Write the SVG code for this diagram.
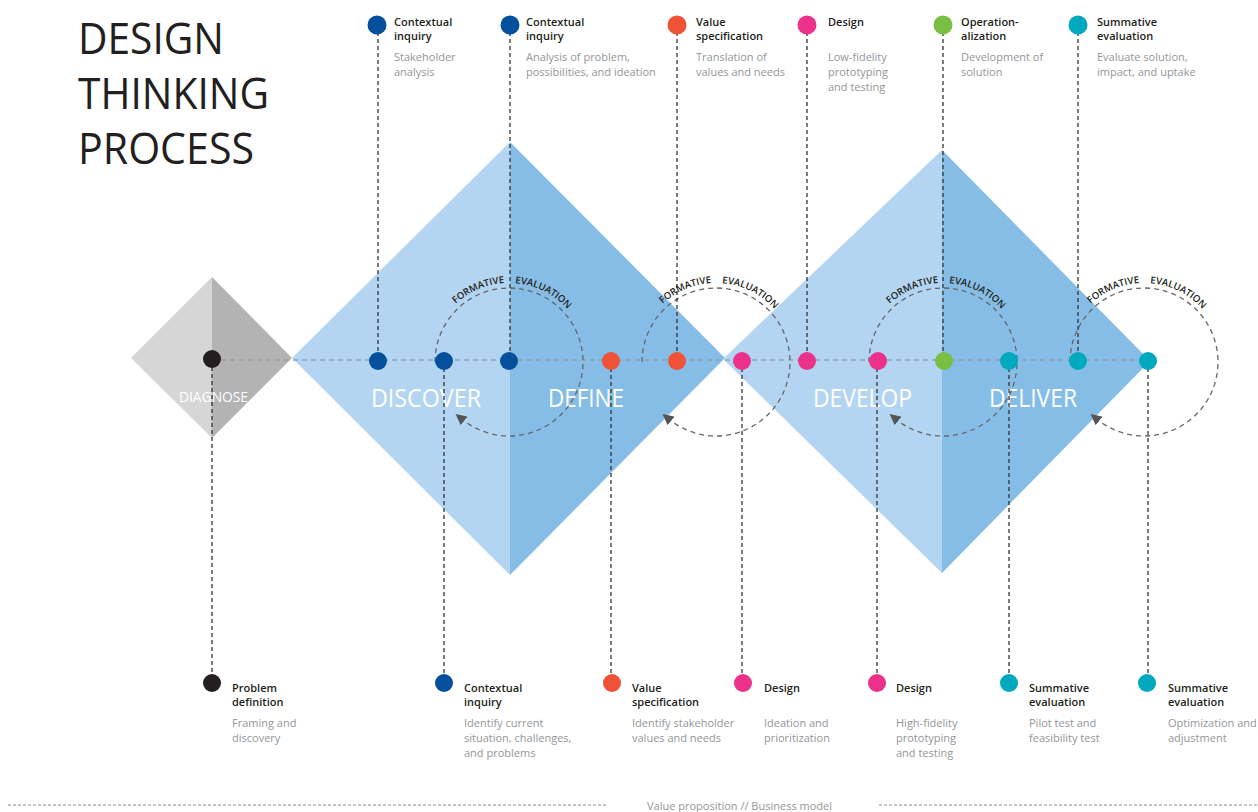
<svg xmlns="http://www.w3.org/2000/svg" width="1258" height="812" viewBox="0 0 1258 812">
<defs>
<style>
.title{font-family:"Open Sans","Liberation Sans",sans-serif;font-size:44px;fill:#231f20}
.phase{font-family:"Open Sans","Liberation Sans",sans-serif;font-size:25px;fill:#ffffff}
.hd{font-family:"Open Sans","Liberation Sans",sans-serif;font-size:11px;font-weight:600;fill:#231f20}
.ds{font-family:"Open Sans","Liberation Sans",sans-serif;font-size:11px;fill:#939598}
.fe{font-family:"Open Sans","Liberation Sans",sans-serif;font-size:9.6px;font-weight:600;fill:#231f20}
.vc{stroke:#333333;stroke-width:1.3;stroke-dasharray:4 3;fill:none}
.loop{stroke:#666666;stroke-width:1.3;stroke-dasharray:5 4;fill:none}
.blue{fill:#064f9c}.orange{fill:#ef5236}.pink{fill:#ec318b}.green{fill:#79bf43}.teal{fill:#00a9bd}.black{fill:#231f20}
</style>
<marker id="ah" viewBox="0 0 10 10" refX="2" refY="5" markerWidth="11" markerHeight="11" markerUnits="userSpaceOnUse" orient="auto">
<path d="M0,0 L10,5 L0,10 z" fill="#555555"/>
</marker>
<path id="fp1" d="M430,362 A79,79 0 0 1 588,362"/>
<path id="fp2" d="M637,362 A79,79 0 0 1 795,362"/>
<path id="fp3" d="M864,362 A79,79 0 0 1 1022,362"/>
<path id="fp4" d="M1065,362 A79,79 0 0 1 1223,362"/>
</defs>
<rect width="1258" height="812" fill="#ffffff"/>

<g id="title">
<text class="title" x="78" y="54" textLength="146" lengthAdjust="spacingAndGlyphs">DESIGN</text>
<text class="title" x="78" y="109" textLength="191" lengthAdjust="spacingAndGlyphs">THINKING</text>
<text class="title" x="78" y="164" textLength="176" lengthAdjust="spacingAndGlyphs">PROCESS</text>
</g>

<g id="diagnose">
<polygon points="131,358 212,277 212,438" fill="#d6d6d6"/>
<polygon points="212,277 292,358 212,438" fill="#b3b3b3"/>
<text class="phase" x="179" y="402" style="font-size:15px" textLength="69" lengthAdjust="spacingAndGlyphs">DIAGNOSE</text>
</g>

<g id="discover-define">
<polygon points="292,358 510,142 510,575" fill="#b3d5f1"/>
<polygon points="510,142 725,358 510,575" fill="#86bde6"/>
<text class="phase" x="371" y="407" textLength="110" lengthAdjust="spacingAndGlyphs">DISCOVER</text>
<text class="phase" x="548" y="407" textLength="76" lengthAdjust="spacingAndGlyphs">DEFINE</text>
</g>

<g id="develop-deliver">
<polygon points="723,359 942,150 942,573" fill="#b3d5f1"/>
<polygon points="942,150 1150,361 942,573" fill="#86bde6"/>
<text class="phase" x="813" y="407" textLength="99" lengthAdjust="spacingAndGlyphs">DEVELOP</text>
<text class="phase" x="989" y="407" textLength="88" lengthAdjust="spacingAndGlyphs">DELIVER</text>
</g>

<g id="connectors">
<line x1="212" y1="360" x2="1148" y2="360" stroke="#8c99a6" stroke-width="1.3" stroke-dasharray="5 4" opacity="0.8"/>
<path class="loop" d="M435,362 A74,74 0 1 1 462.4,419.5" marker-end="url(#ah)"/>
<path class="loop" d="M642,362 A74,74 0 1 1 669.4,419.5" marker-end="url(#ah)"/>
<path class="loop" d="M869,362 A74,74 0 1 1 896.4,419.5" marker-end="url(#ah)"/>
<path class="loop" d="M1070,362 A74,74 0 1 1 1097.4,419.5" marker-end="url(#ah)"/>
<line class="vc" x1="378" y1="25" x2="378" y2="361"/>
<line class="vc" x1="510" y1="25" x2="510" y2="361"/>
<line class="vc" x1="677" y1="25" x2="677" y2="361"/>
<line class="vc" x1="807" y1="25" x2="807" y2="361"/>
<line class="vc" x1="943" y1="25" x2="943" y2="361"/>
<line class="vc" x1="1078" y1="25" x2="1078" y2="361"/>
<line class="vc" x1="212" y1="360" x2="212" y2="683"/>
<line class="vc" x1="444" y1="361" x2="444" y2="683"/>
<line class="vc" x1="611" y1="361" x2="611" y2="683"/>
<line class="vc" x1="742" y1="361" x2="742" y2="683"/>
<line class="vc" x1="877" y1="361" x2="877" y2="683"/>
<line class="vc" x1="1009" y1="361" x2="1009" y2="683"/>
<line class="vc" x1="1148" y1="361" x2="1148" y2="683"/>
</g>

<g id="formative-evaluation">
<text class="fe"><textPath href="#fp1" startOffset="119" text-anchor="end">FORMATIVE</textPath></text>
<text class="fe"><textPath href="#fp1" startOffset="130">EVALUATION</textPath></text>
<text class="fe"><textPath href="#fp2" startOffset="119" text-anchor="end">FORMATIVE</textPath></text>
<text class="fe"><textPath href="#fp2" startOffset="130">EVALUATION</textPath></text>
<text class="fe"><textPath href="#fp3" startOffset="119" text-anchor="end">FORMATIVE</textPath></text>
<text class="fe"><textPath href="#fp3" startOffset="130">EVALUATION</textPath></text>
<text class="fe"><textPath href="#fp4" startOffset="119" text-anchor="end">FORMATIVE</textPath></text>
<text class="fe"><textPath href="#fp4" startOffset="130">EVALUATION</textPath></text>
</g>

<g id="main-dots">
<circle class="black" cx="212" cy="359" r="9"/>
<circle class="blue" cx="378" cy="361" r="9"/>
<circle class="blue" cx="444" cy="361" r="9"/>
<circle class="blue" cx="509" cy="361" r="9"/>
<circle class="orange" cx="611" cy="361" r="9"/>
<circle class="orange" cx="677" cy="361" r="9"/>
<circle class="pink" cx="742" cy="361" r="9"/>
<circle class="pink" cx="807" cy="361" r="9"/>
<circle class="pink" cx="878" cy="361" r="9"/>
<circle class="green" cx="944" cy="361" r="9"/>
<circle class="teal" cx="1009" cy="361" r="9"/>
<circle class="teal" cx="1078" cy="361" r="9"/>
<circle class="teal" cx="1148" cy="361" r="9"/>
</g>

<g id="top-contextual-1">
<circle class="blue" cx="377" cy="25" r="9.5"/>
<text class="hd" x="394" y="26">Contextual</text><text class="hd" x="394" y="40">inquiry</text>
<text class="ds" x="394" y="61">Stakeholder</text><text class="ds" x="394" y="76">analysis</text>
</g>
<g id="top-contextual-2">
<circle class="blue" cx="510" cy="25" r="9.5"/>
<text class="hd" x="526" y="26">Contextual</text><text class="hd" x="526" y="40">inquiry</text>
<text class="ds" x="526" y="61">Analysis of problem,</text><text class="ds" x="526" y="76">possibilities, and ideation</text>
</g>
<g id="top-value">
<circle class="orange" cx="677" cy="25" r="9.5"/>
<text class="hd" x="696" y="26">Value</text><text class="hd" x="696" y="40">specification</text>
<text class="ds" x="696" y="61">Translation of</text><text class="ds" x="696" y="76">values and needs</text>
</g>
<g id="top-design">
<circle class="pink" cx="807" cy="25" r="9.5"/>
<text class="hd" x="828" y="26">Design</text>
<text class="ds" x="828" y="61">Low-fidelity</text><text class="ds" x="828" y="76">prototyping</text><text class="ds" x="828" y="91">and testing</text>
</g>
<g id="top-operationalization">
<circle class="green" cx="943" cy="25" r="9.5"/>
<text class="hd" x="961" y="26">Operation-</text><text class="hd" x="961" y="40">alization</text>
<text class="ds" x="961" y="61">Development of</text><text class="ds" x="961" y="76">solution</text>
</g>
<g id="top-summative">
<circle class="teal" cx="1078" cy="25" r="9.5"/>
<text class="hd" x="1097" y="26">Summative</text><text class="hd" x="1097" y="40">evaluation</text>
<text class="ds" x="1097" y="61">Evaluate solution,</text><text class="ds" x="1097" y="76">impact, and uptake</text>
</g>

<g id="bottom-problem">
<circle class="black" cx="212" cy="683" r="9"/>
<text class="hd" x="232" y="692">Problem</text><text class="hd" x="232" y="706">definition</text>
<text class="ds" x="232" y="727">Framing and</text><text class="ds" x="232" y="742">discovery</text>
</g>
<g id="bottom-contextual">
<circle class="blue" cx="444" cy="683" r="9"/>
<text class="hd" x="464" y="692">Contextual</text><text class="hd" x="464" y="706">inquiry</text>
<text class="ds" x="464" y="727">Identify current</text><text class="ds" x="464" y="742">situation, challenges,</text><text class="ds" x="464" y="757">and problems</text>
</g>
<g id="bottom-value">
<circle class="orange" cx="612" cy="683" r="9"/>
<text class="hd" x="632" y="692">Value</text><text class="hd" x="632" y="706">specification</text>
<text class="ds" x="632" y="727">Identify stakeholder</text><text class="ds" x="632" y="742">values and needs</text>
</g>
<g id="bottom-design-1">
<circle class="pink" cx="743" cy="683" r="9"/>
<text class="hd" x="764" y="692">Design</text>
<text class="ds" x="764" y="727">Ideation and</text><text class="ds" x="764" y="742">prioritization</text>
</g>
<g id="bottom-design-2">
<circle class="pink" cx="877" cy="683" r="9"/>
<text class="hd" x="896" y="692">Design</text>
<text class="ds" x="896" y="727">High-fidelity</text><text class="ds" x="896" y="742">prototyping</text><text class="ds" x="896" y="757">and testing</text>
</g>
<g id="bottom-summative-1">
<circle class="teal" cx="1009" cy="683" r="9"/>
<text class="hd" x="1029" y="692">Summative</text><text class="hd" x="1029" y="706">evaluation</text>
<text class="ds" x="1029" y="727">Pilot test and</text><text class="ds" x="1029" y="742">feasibility test</text>
</g>
<g id="bottom-summative-2">
<circle class="teal" cx="1147" cy="683" r="9"/>
<text class="hd" x="1168" y="692">Summative</text><text class="hd" x="1168" y="706">evaluation</text>
<text class="ds" x="1168" y="727">Optimization and</text><text class="ds" x="1168" y="742">adjustment</text>
</g>

<g id="value-proposition">
<line x1="8" y1="805" x2="608" y2="805" stroke="#888888" stroke-width="1.2" stroke-dasharray="3 2"/>
<line x1="879" y1="805" x2="1258" y2="805" stroke="#888888" stroke-width="1.2" stroke-dasharray="3 2"/>
<text class="ds" x="647" y="810" style="font-size:11.5px" textLength="185" lengthAdjust="spacingAndGlyphs">Value proposition // Business model</text>
</g>
</svg>
